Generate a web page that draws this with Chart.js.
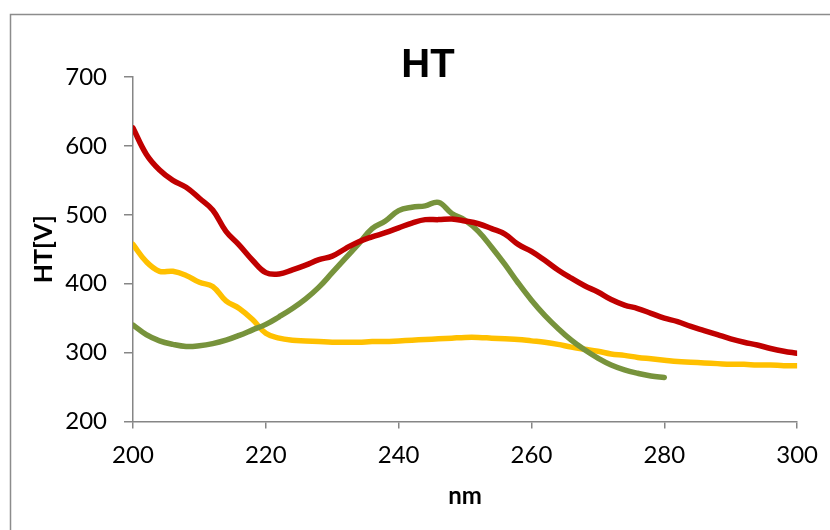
<!DOCTYPE html>
<html>
<head>
<meta charset="utf-8">
<title>HT</title>
<script src="https://cdn.jsdelivr.net/npm/chart.js@4/dist/chart.umd.min.js"></script>
<style>
  html, body { margin: 0; padding: 0; background: #fff; }
  #wrap { width: 830px; height: 530px; }
</style>
</head>
<body>
<div id="wrap"><canvas id="htChart" width="830" height="530"></canvas></div>
<script>
// wavelength grid, nm
var wavelengths = [200, 202, 204, 206, 208, 210, 212, 214, 216, 218,
                   220, 222, 224, 226, 228, 230, 232, 234, 236, 238,
                   240, 242, 244, 246, 248, 250, 252, 254, 256, 258,
                   260, 262, 264, 266, 268, 270, 272, 274, 276, 278,
                   280, 282, 284, 286, 288, 290, 292, 294, 296, 298, 300];

// HT voltage per sample
var redHT = [626, 588, 565, 550, 540, 524, 507, 476, 456, 434,
             416, 414, 420, 427, 435, 440, 451, 461, 468, 474,
             481, 488, 493, 493, 494, 491, 487, 480, 472, 457,
             447, 434, 420, 408, 397, 388, 377, 369, 364, 357,
             350, 345, 338, 332, 326, 320, 315, 311, 306, 302, 299];

var yellowHT = [457, 432, 418, 418, 412, 402, 396, 375, 364, 348,
                328, 321, 318, 317, 316, 315, 315, 315, 316, 316,
                317, 318, 319, 320, 321, 322, 322, 321, 320, 319,
                317, 315, 312, 308, 305, 302, 298, 296, 293, 291,
                289, 287, 286, 285, 284, 283, 283, 282, 282, 281, 281];

// this one was only measured up to 280 nm
var greenHT = [340, 326, 317, 312, 309, 310, 313, 318, 325, 333,
               341, 352, 364, 378, 395, 416, 437, 458, 480, 491,
               506, 511, 513, 518, 502, 492, 476, 453, 428, 401,
               376, 354, 335, 318, 304, 292, 282, 275, 270, 266, 264];

var xTicks = [200, 220, 240, 260, 280, 300];
var yTicks = [200, 300, 400, 500, 600, 700];

function toPoints(vals) {
  return vals.map(function (v, i) { return { x: wavelengths[i], y: v }; });
}

var axisGray = '#868686';

// chart-area frame (only left and top edges fall inside the canvas)
var framePlugin = {
  id: 'frame',
  beforeDraw: function (chart) {
    var c = chart.ctx;
    c.save();
    c.fillStyle = '#ffffff';
    c.fillRect(0, 0, chart.width, chart.height);
    c.strokeStyle = '#8c8c8c';
    c.lineWidth = 1.5;
    c.beginPath();
    c.moveTo(10.5, chart.height);
    c.lineTo(10.5, 14.5);
    c.lineTo(chart.width, 14.5);
    c.stroke();
    c.restore();
  }
};

var ctx = document.getElementById('htChart').getContext('2d');
var htChart = new Chart(ctx, {
  type: 'line',
  data: {
    datasets: [{
      label: 'Sample 1',
      data: toPoints(redHT),
      borderColor: '#C00000',
      backgroundColor: '#C00000'
    }, {
      label: 'Sample 2',
      data: toPoints(greenHT),
      borderColor: '#77933C',
      backgroundColor: '#77933C'
    }, {
      label: 'Sample 3',
      data: toPoints(yellowHT),
      borderColor: '#FFC000',
      backgroundColor: '#FFC000'
    }]
  },
  options: {
    responsive: false,
    animation: false,
    devicePixelRatio: 1,
    // left/right padding keeps the title centred over the whole frame
    layout: { padding: { left: 51, right: 25, top: 0, bottom: 0 } },
    elements: {
      point: { radius: 0, hoverRadius: 0 },
      line: { borderWidth: 5.5, tension: 0.4, fill: false, borderCapStyle: 'round', borderJoinStyle: 'round' }
    },
    plugins: {
      legend: { display: false },
      tooltip: { enabled: false },
      title: {
        display: true,
        text: 'HT',
        color: '#000',
        font: { family: '"Liberation Sans", Arial, sans-serif', size: 40, weight: 'bold', lineHeight: 1.2 },
        padding: { top: 42, bottom: -13 }
      }
    },
    scales: {
      x: {
        type: 'linear',
        min: 200,
        max: 300,
        afterBuildTicks: function (scale) {
          scale.ticks = xTicks.map(function (v) { return { value: v }; });
        },
        afterFit: function (scale) { scale.height = 108.5; },
        grid: { display: true, drawOnChartArea: false, drawTicks: true, tickLength: 7, color: axisGray, lineWidth: 1.5 },
        border: { display: true, color: axisGray, width: 1.5 },
        ticks: { color: '#000', padding: 12, maxRotation: 0, font: { family: 'Lato, sans-serif', size: 24 } },
        title: {
          display: true,
          text: 'nm',
          color: '#000',
          font: { family: 'Lato, sans-serif', size: 24, weight: 'bold' },
          padding: { top: 19, bottom: 19 }
        }
      },
      y: {
        type: 'linear',
        min: 200,
        max: 700,
        afterBuildTicks: function (scale) {
          scale.ticks = yTicks.map(function (v) { return { value: v }; });
        },
        afterFit: function (scale) { scale.width = 82; },
        grid: { display: true, drawOnChartArea: false, drawTicks: true, tickLength: 9, color: axisGray, lineWidth: 1.5 },
        border: { display: true, color: axisGray, width: 1.5 },
        ticks: { color: '#000', padding: 17, font: { family: 'Lato, sans-serif', size: 24 } },
        title: {
          display: true,
          text: 'HT[V]',
          color: '#000',
          font: { family: 'Lato, sans-serif', size: 25, weight: 'bold' },
          padding: { top: -22, bottom: -22 }
        }
      }
    }
  },
  plugins: [framePlugin]
});
</script>
</body>
</html>
